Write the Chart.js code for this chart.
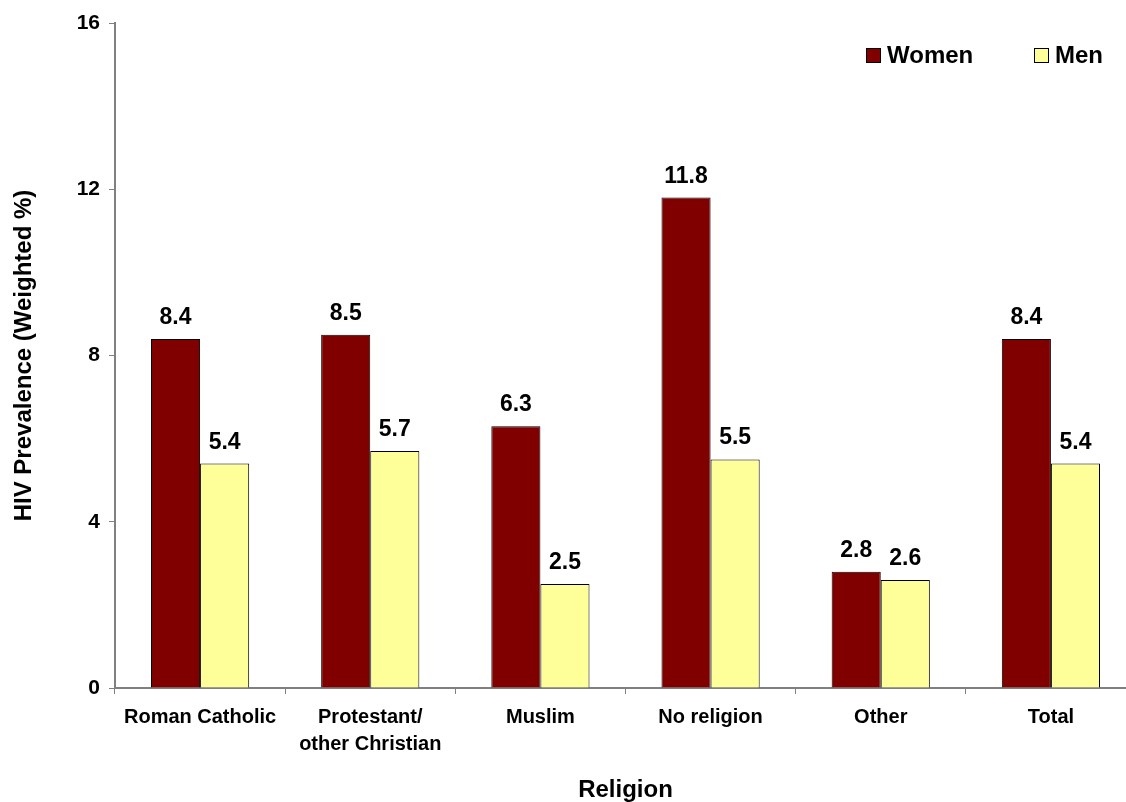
<!DOCTYPE html>
<html>
<head>
<meta charset="utf-8">
<script src="https://cdn.jsdelivr.net/npm/chart.js@4"></script>
<style>
html,body{margin:0;padding:0;background:#fff;overflow:hidden;width:1126px;height:802px;}
#wrap{position:absolute;left:0;top:0;width:1136px;height:802px;}
</style>
</head>
<body>
<div id="wrap"><canvas id="c" width="1136" height="802"></canvas></div>
<script>
const categories = ["Roman Catholic", ["Protestant/", "other Christian"], "Muslim", "No religion", "Other", "Total"];
const women = [8.4, 8.5, 6.3, 11.8, 2.8, 8.4];
const men = [5.4, 5.7, 2.5, 5.5, 2.6, 5.4];
const seriesNames = ["Women", "Men"];
const yTicks = [0, 4, 8, 12, 16];

const FONT = "'Liberation Sans', Arial, sans-serif";

const labelPlugin = {
  id: 'barLabels',
  afterDatasetsDraw(chart) {
    const ctx = chart.ctx;
    ctx.save();
    ctx.font = "bold 23px " + FONT;
    ctx.fillStyle = '#000';
    ctx.textAlign = 'center';
    ctx.textBaseline = 'alphabetic';
    chart.data.datasets.forEach((ds, i) => {
      const meta = chart.getDatasetMeta(i);
      meta.data.forEach((bar, j) => {
        ctx.fillText(ds.data[j].toFixed(1), bar.x, bar.y - 15);
      });
    });
    ctx.restore();
  }
};

const legendPlugin = {
  id: 'customLegend',
  afterDraw(chart) {
    const ctx = chart.ctx;
    ctx.save();
    ctx.font = "bold 24px " + FONT;
    ctx.textBaseline = 'middle';
    ctx.textAlign = 'left';
    const pos = [866, 1034];
    const y = 55;
    chart.data.datasets.forEach((ds, i) => {
      const x = pos[i];
      ctx.fillStyle = ds.backgroundColor;
      ctx.fillRect(x, y - 7, 15, 15);
      ctx.strokeStyle = '#000';
      ctx.lineWidth = 1;
      ctx.strokeRect(x + 0.5, y - 6.5, 14, 14);
      ctx.fillStyle = '#000';
      ctx.fillText(ds.label, x + 21, y + 1);
    });
    ctx.restore();
  }
};

new Chart(document.getElementById('c'), {
  type: 'bar',
  data: {
    labels: categories,
    datasets: [
      { label: seriesNames[0], data: women, backgroundColor: '#800000', borderColor: '#000', borderWidth: 1 },
      { label: seriesNames[1], data: men, backgroundColor: '#FFFF99', borderColor: '#000', borderWidth: 1 }
    ]
  },
  options: {
    responsive: false,
    animation: false,
    devicePixelRatio: 1,
    layout: { padding: { top: 23, right: 0, left: 0, bottom: 0 } },
    datasets: { bar: { categoryPercentage: 0.577, barPercentage: 1.0 } },
    plugins: { legend: { display: false }, tooltip: { enabled: false } },
    scales: {
      x: {
        grid: { display: true, drawOnChartArea: false, offset: true, tickLength: 6, color: '#808080' },
        border: { display: true, color: '#808080', width: 2 },
        ticks: { color: '#000', font: { family: FONT, size: 20, weight: 'bold', lineHeight: 1.35 }, padding: 10, maxRotation: 0, autoSkip: false },
        title: { display: true, text: 'Religion', color: '#000', font: { family: FONT, size: 24, weight: 'bold', lineHeight: 1 }, padding: { top: 0, bottom: 0 } },
        afterFit(scale) { scale.height = 114; }
      },
      y: {
        min: 0, max: 16,
        afterBuildTicks(scale) { scale.ticks = yTicks.map(v => ({ value: v })); },
        grid: { display: true, drawOnChartArea: false, tickLength: 6, color: '#808080' },
        border: { display: true, color: '#808080', width: 2 },
        ticks: { color: '#000', font: { family: FONT, size: 21, weight: 'bold' }, padding: 9 },
        title: { display: true, text: 'HIV Prevalence (Weighted %)', color: '#000', font: { family: FONT, size: 24, weight: 'bold', lineHeight: 1 }, padding: { top: 12, bottom: 0 } },
        afterFit(scale) { scale.width = 115; }
      }
    }
  },
  plugins: [labelPlugin, legendPlugin]
});
</script>
</body>
</html>
